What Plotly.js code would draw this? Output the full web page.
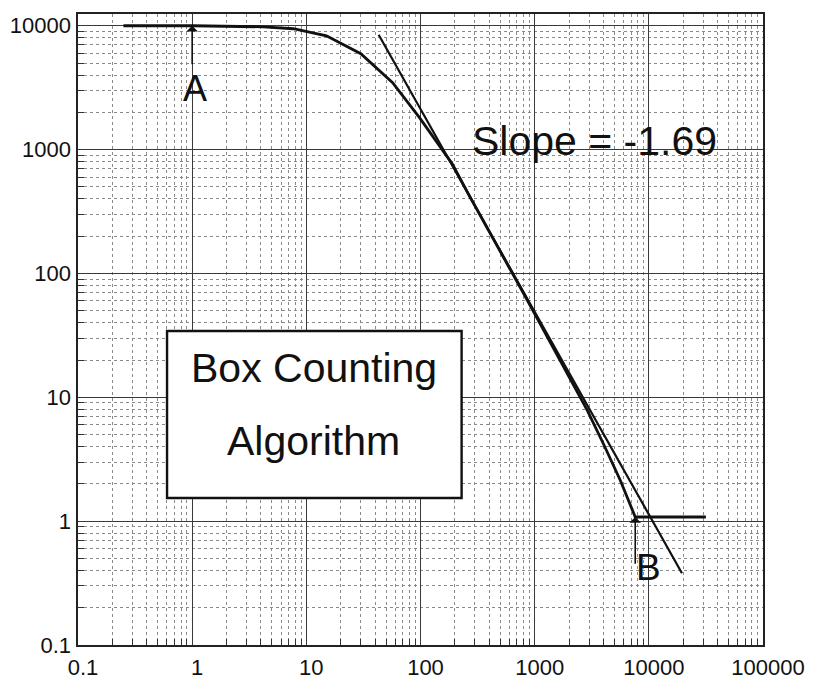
<!DOCTYPE html>
<html>
<head>
<meta charset="utf-8">
<script src="https://cdn.plot.ly/plotly-3.0.1.min.js"></script>
<style>html,body{margin:0;padding:0;background:#fff;}#chart{width:819px;height:681px;}</style>
</head>
<body>
<div id="chart"></div>
<script>
// Box-counting curve N(r)
const curveX = [0.25, 1, 4.2, 7.7, 15, 30, 57, 98, 189, 270, 865, 2890, 4055, 5620, 7600, 31600];
const curveY = [10000, 10000, 9800, 9460, 8300, 5940, 3470, 1810, 771, 418, 60.5, 7.85, 4.1, 2.14, 1.08, 1.08];
// Fitted straight line (slope -1.69)
const fitX = [43, 19500];
const fitY = [8460, 0.38];
// Tick labels
const xTickVals = [0.1, 1, 10, 100, 1000, 10000, 100000];
const xTickText = ["0.1", "1", "10", "100", "1000", "10000", "100000"];
const yTickVals = [0.1, 1, 10, 100, 1000, 10000];
const yTickText = ["0.1", "1", "10", "100", "1000", "10000"];
// Markers A and B
const markA = {x: 1, head: 10000, tail: 4750, labelX: 1.06, labelY: 3100};
const markB = {x: 7600, head: 1.08, tail: 0.44, labelX: 10000, labelY: 0.425};
const slopeLabel = {text: "Slope = -1.69", x: 3360, y: 1180};

function minorVals(lo, hi) {
  const out = [];
  for (let d = lo; d < hi; d++) {
    for (let m = 2; m <= 9; m++) out.push(m * Math.pow(10, d));
  }
  return out;
}

const L = Math.log10;
const FONT = "Liberation Sans";

const traces = [
  {x: curveX, y: curveY, mode: "lines", line: {color: "#111", width: 2.8}, hoverinfo: "skip"},
  {x: fitX, y: fitY, mode: "lines", line: {color: "#111", width: 2.2}, hoverinfo: "skip"}
];

const axisCommon = {
  type: "log",
  showline: true, linecolor: "#222", linewidth: 1.6, mirror: true,
  showgrid: true, gridcolor: "#3a3a3a", gridwidth: 1.2,
  ticks: "", zeroline: false,
  tickfont: {family: FONT, size: 22, color: "#111"},
  tickmode: "array"
};

const minorCommon = {tickmode: "array", tickvals: minorVals(-1, 5), showgrid: true, gridcolor: "#8a8a8a",
  gridwidth: 1, griddash: "dot", ticks: "inside", ticklen: 6, tickcolor: "#333"};

const layout = {
  width: 819, height: 681,
  margin: {l: 78, r: 56, t: 14, b: 36},
  paper_bgcolor: "#fff", plot_bgcolor: "#fff",
  showlegend: false,
  font: {family: FONT},
  xaxis: Object.assign({}, axisCommon, {
    range: [-1, 5], tickvals: xTickVals, ticktext: xTickText, ticklabelstandoff: 2, ticklabelshift: 5,
    minor: minorCommon
  }),
  yaxis: Object.assign({}, axisCommon, {
    range: [-1, 4.095], tickvals: yTickVals, ticktext: yTickText, ticklabelstandoff: 1,
    minor: minorCommon
  }),
  shapes: [
    {type: "rect", xref: "paper", yref: "paper", x0: 0.130, x1: 0.560, y0: 0.233, y1: 0.4976,
     line: {color: "#111", width: 2.4}, fillcolor: "#fff", layer: "above"}
  ],
  annotations: [
    {xref: "x", yref: "y", x: L(markA.x), y: L(markA.head), axref: "x", ayref: "y", ax: L(markA.x), ay: L(markA.tail),
     showarrow: true, arrowhead: 1, arrowsize: 1.2, arrowwidth: 1.6, arrowcolor: "#111", text: ""},
    {xref: "x", yref: "y", x: L(markA.labelX), y: L(markA.labelY), text: "A", showarrow: false,
     font: {family: FONT, size: 36, color: "#111"}},
    {xref: "x", yref: "y", x: L(markB.x), y: L(markB.head), axref: "x", ayref: "y", ax: L(markB.x), ay: L(markB.tail),
     showarrow: true, arrowhead: 1, arrowsize: 1.2, arrowwidth: 1.6, arrowcolor: "#111", text: ""},
    {xref: "x", yref: "y", x: L(markB.labelX), y: L(markB.labelY), text: "B", showarrow: false,
     font: {family: FONT, size: 37, color: "#111"}},
    {xref: "x", yref: "y", x: L(slopeLabel.x), y: L(slopeLabel.y), text: slopeLabel.text, showarrow: false,
     font: {family: FONT, size: 41, color: "#111"}},
    {xref: "paper", yref: "paper", x: 0.344, y: 0.439, text: "Box Counting", showarrow: false,
     font: {family: FONT, size: 41, color: "#111"}},
    {xref: "paper", yref: "paper", x: 0.344, y: 0.2837, text: "Algorithm", showarrow: false,
     font: {family: FONT, size: 41, color: "#111"}}
  ]
};

Plotly.newPlot("chart", traces, layout, {staticPlot: true, displayModeBar: false});
</script>
</body>
</html>
